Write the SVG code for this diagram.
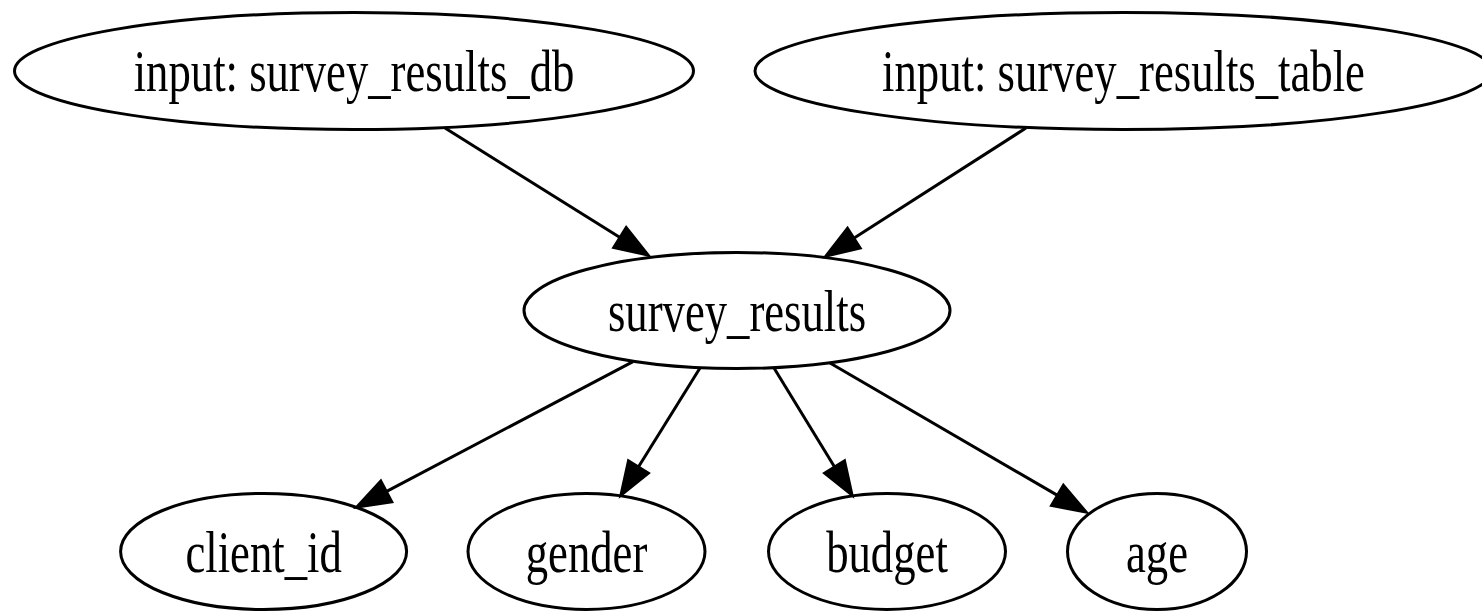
<svg xmlns="http://www.w3.org/2000/svg" width="1482" height="612" viewBox="0 0 1482 612">
  <style>
    .node ellipse { fill: none; stroke: #000; stroke-width: 3; }
    .node text { font-family: "Liberation Serif", "Times New Roman", serif; font-size: 44.7px; fill: #000; text-anchor: middle; }
    .edge line { stroke: #000; stroke-width: 3; }
    .edge polygon { fill: #000; stroke: #000; stroke-width: 3; stroke-linejoin: miter; }
  </style>
  <rect width="1482" height="612" fill="#fff"/>

  <!-- connectors -->
  <g id="edges">
    <g class="edge" id="db_to_results">
      <line x1="445" y1="128" x2="620" y2="237.5"/>
      <polygon points="648,255 613.8,247.4 626.2,227.6"/>
    </g>
    <g class="edge" id="table_to_results">
      <line x1="1026" y1="128" x2="853.8" y2="238.2"/>
      <polygon points="826,256 860.1,248.1 847.5,228.4"/>
    </g>
    <g class="edge" id="results_to_client_id">
      <line x1="633" y1="361.6" x2="386.2" y2="491.6"/>
      <polygon points="357,507 391.7,501.9 380.8,481.2"/>
    </g>
    <g class="edge" id="results_to_gender">
      <line x1="700" y1="368" x2="638.4" y2="467"/>
      <polygon points="621,495 648.3,473.2 628.5,460.8"/>
    </g>
    <g class="edge" id="results_to_budget">
      <line x1="774" y1="368" x2="834.6" y2="467"/>
      <polygon points="852,495 844.5,460.8 824.7,473.2"/>
    </g>
    <g class="edge" id="results_to_age">
      <line x1="830" y1="363" x2="1057.5" y2="495.4"/>
      <polygon points="1086,512 1051.6,505.5 1063.4,485.3"/>
    </g>
  </g>

  <!-- nodes; labels are set in a tall, narrow serif -->
  <g class="node" id="survey_results_db">
    <ellipse cx="354" cy="71" rx="339.5" ry="58.5"/>
    <text transform="translate(354,91) scale(1,1.3)">input: survey_results_db</text>
  </g>
  <g class="node" id="survey_results_table">
    <ellipse cx="1123.5" cy="71" rx="368.5" ry="58.5"/>
    <text transform="translate(1123.5,91) scale(1,1.3)">input: survey_results_table</text>
  </g>
  <g class="node" id="survey_results">
    <ellipse cx="737" cy="310.5" rx="213" ry="58"/>
    <text transform="translate(737,330.5) scale(1,1.3)">survey_results</text>
  </g>
  <g class="node" id="client_id">
    <ellipse cx="263.6" cy="551.5" rx="143" ry="58"/>
    <text transform="translate(263.6,571.5) scale(1,1.3)">client_id</text>
  </g>
  <g class="node" id="gender">
    <ellipse cx="586.5" cy="551.5" rx="118.5" ry="58"/>
    <text transform="translate(586.5,571.5) scale(1,1.3)">gender</text>
  </g>
  <g class="node" id="budget">
    <ellipse cx="887" cy="551.5" rx="118.5" ry="58"/>
    <text transform="translate(887,571.5) scale(1,1.3)">budget</text>
  </g>
  <g class="node" id="age">
    <ellipse cx="1157" cy="551.5" rx="89.5" ry="58"/>
    <text transform="translate(1157,571.5) scale(1,1.3)">age</text>
  </g>
</svg>
